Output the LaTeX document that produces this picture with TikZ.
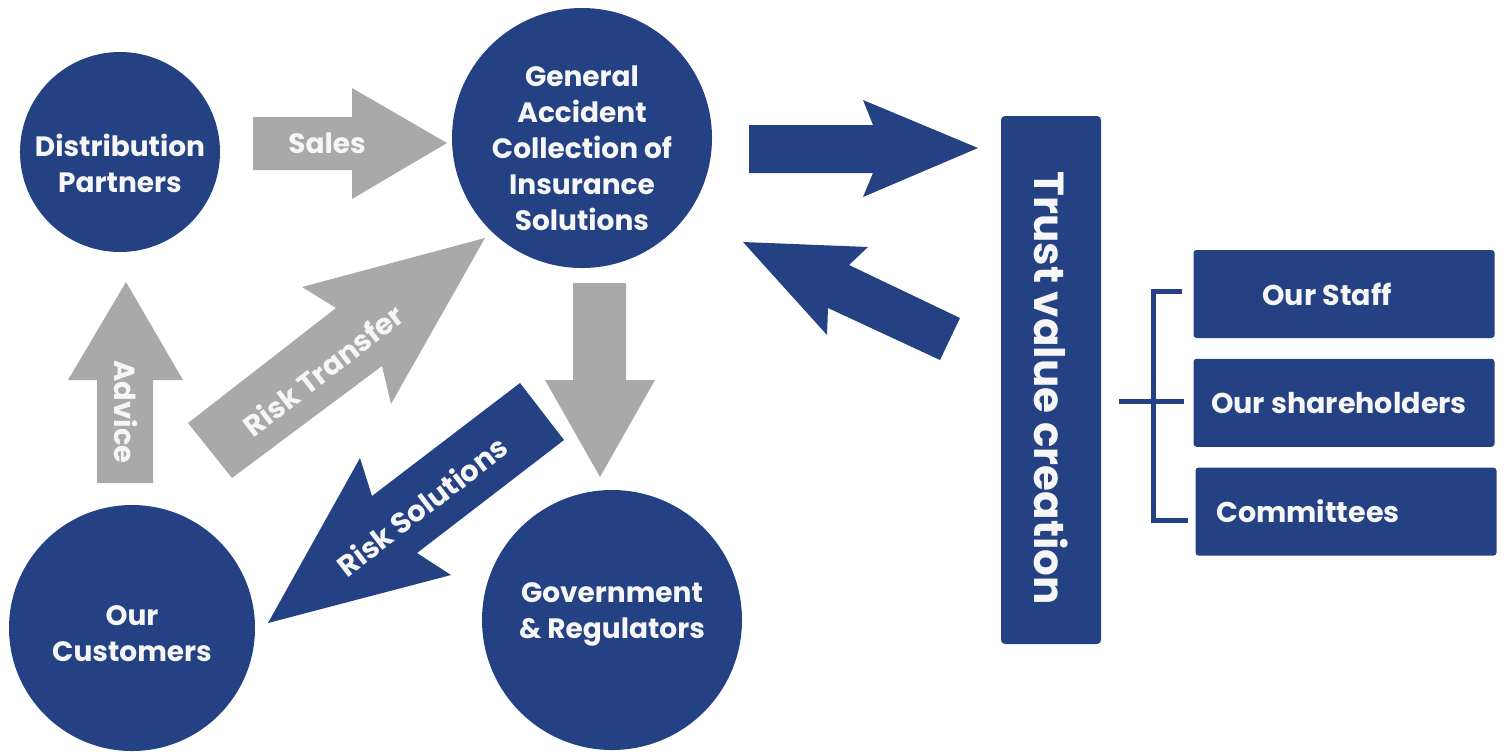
\documentclass[tikz,border=0pt]{standalone}
\usepackage{fontspec}
\setmainfont{Poppins}
\usetikzlibrary{positioning}
\definecolor{gablue}{RGB}{36,65,131}
\definecolor{gagray}{RGB}{169,169,170}
\definecolor{gatext}{RGB}{246,246,246}

\begin{document}
\begin{tikzpicture}[x=0.5pt, y=-0.5pt, node distance=10pt, party/.style={
        circle,
        fill=gablue,
        inner sep=0pt
    }, partytext/.style={
        text=gatext,
        align=center,
        font=\bfseries\fontsize{14}{18}\selectfont
    }, member/.style={
        rectangle,
        rounded corners=1.5pt,
        fill=gablue,
        text=gatext,
        minimum width=150.5pt,
        minimum height=44pt,
        font=\bfseries\fontsize{14.3}{17}\selectfont
    }, pillar/.style={
        rectangle,
        rounded corners=2pt,
        fill=gablue,
        text=gatext,
        minimum width=264pt,
        minimum height=50pt,
        rotate=-90,
        font=\bfseries\fontsize{21}{26}\selectfont
    }, flowgray/.style={
        fill=gagray
    }, flowblue/.style={
        fill=gablue
    }, flowlabel/.style={
        text=gatext,
        font=\bfseries\fontsize{14.5}{18}\selectfont
    }, bracket/.style={
        draw=gablue,
        line width=2.5pt
    }]
    \useasboundingbox (0,0) rectangle (1504,751);

    % block arrows
    \fill [flowgray] (253,117) -- (352,117) -- (352,88) -- (447,143) -- (352,199) -- (352,170) -- (253,170) -- cycle;
    \fill [flowgray] (97,483) -- (97,380) -- (68,380) -- (126,282) -- (183,380) -- (153,380) -- (153,483) -- cycle;
    \fill [flowgray] (573,283) -- (626,283) -- (626,380) -- (655,380) -- (600,477) -- (545,380) -- (573,380) -- cycle;
    \fill [flowgray] (188,423) -- (336,308) -- (302,287) -- (485,238) -- (391,404) -- (382,366) -- (232,478) -- cycle;
    \fill [flowblue] (520,383) -- (564,440) -- (417,553) -- (451,575) -- (268,623) -- (360,458) -- (372,496) -- cycle;
    \fill [flowblue] (749,125) -- (873,125) -- (863,100) -- (978,148) -- (863,197) -- (873,173) -- (749,173) -- cycle;
    \fill [flowblue] (960,318) -- (849,265) -- (868,247) -- (743,242) -- (827,335) -- (828,308) -- (940,360) -- cycle;

    \node (sales) [flowlabel, font=\bfseries\fontsize{14}{17}\selectfont] at (327,143) {Sales};
    \node (advice) [flowlabel, rotate=-90] at (126,412) {Advice};
    \node (transfer) [flowlabel, rotate=37.7] at (323,370) {Risk Transfer};
    \node (solutions) [flowlabel, rotate=37.7] at (422,506) {Risk Solutions};

    % parties
    \node (distrib) [party, minimum size=100pt, label={[partytext, yshift=-5.5pt]center:Distribution\\Partners}] at (120,152) {};
    \node (general) [party, minimum size=130pt, label={[partytext, yshift=-5pt]center:General\\Accident\\Collection of\\Insurance\\Solutions}] at (582,138) {};
    \node (customers) [party, minimum size=123pt, label={[partytext, yshift=-3pt]center:Our\\Customers}] at (132,628) {};
    \node (govt) [party, minimum size=130pt, label={[partytext, yshift=3pt]center:Government\\\& Regulators}] at (612,620) {};

    % trust and stakeholders
    \node (trust) [pillar] at (1051,380) {\hspace*{8pt}Trust value creation};
    \node (staff) [member] at (1344,294) {\hspace*{-17pt}Our Staff};
    \node (holders) [member, below=of staff] {\hspace*{-5pt}Our shareholders};
    \node (committees) [member, below=of holders, xshift=1pt] {\hspace*{-38pt}Committees};
    \draw [bracket] (1182,291) -- (1153,291) -- (1153,520) -- (1188,520);
    \draw [bracket] (1119,401) -- (1184,401);

\end{tikzpicture}
\end{document}
